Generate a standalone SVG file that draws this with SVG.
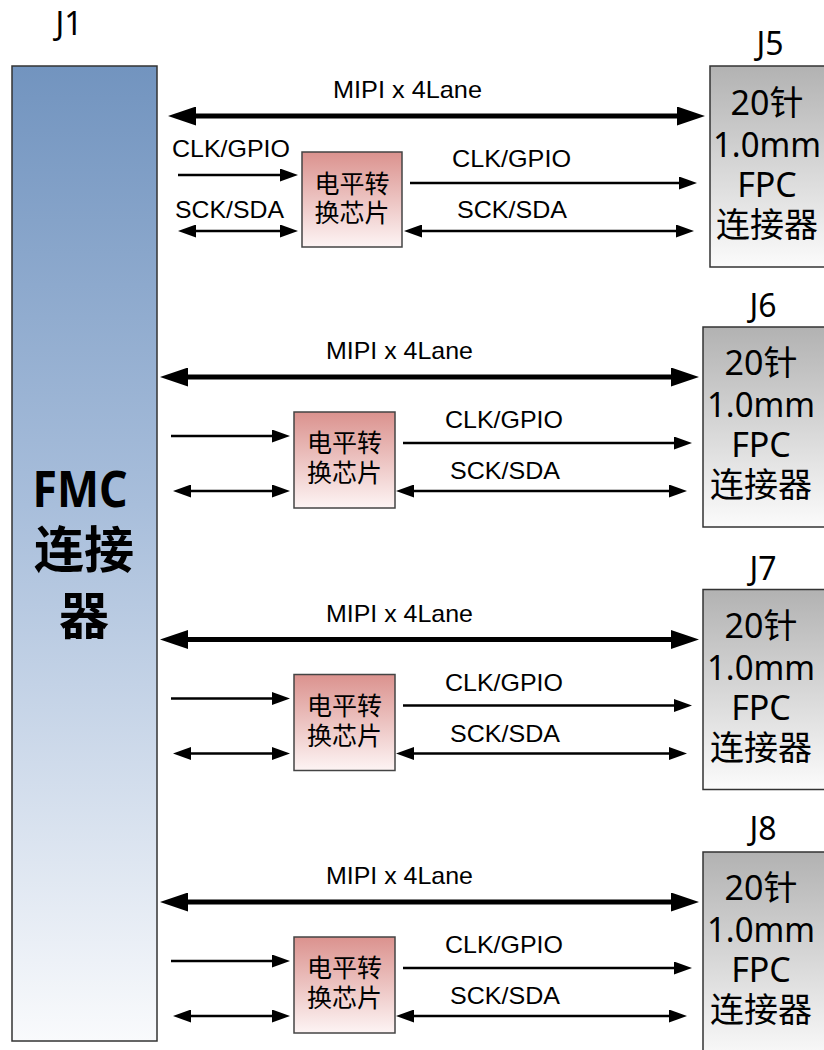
<svg xmlns="http://www.w3.org/2000/svg" width="824" height="1050" viewBox="0 0 824 1050">
<style>
.lbl{font-family:"Liberation Sans",Arial,sans-serif;font-size:24px;fill:#000}
.jl{font-family:"Noto Sans","Noto Sans CJK SC",sans-serif;font-size:32px;fill:#000;text-anchor:middle}
.jt{font-family:"Noto Sans","Noto Sans CJK SC",sans-serif;font-size:34px;fill:#000;text-anchor:middle}
.ct{font-family:"Noto Sans CJK SC",sans-serif;font-size:25px;fill:#000;text-anchor:middle}
.fmc{font-family:"Noto Sans","Noto Sans CJK SC",sans-serif;font-size:50px;font-weight:bold;fill:#000;text-anchor:middle}
.thick{stroke:#000;stroke-width:5;fill:none}
.thin{stroke:#000;stroke-width:2.5;fill:none}
.bigb{marker-start:url(#mb);marker-end:url(#mb)}
.sm{marker-end:url(#ms)}
.smb{marker-start:url(#ms);marker-end:url(#ms)}
.chip{fill:url(#gChip);stroke:#444;stroke-width:1.5}
.jbox{fill:url(#gJ);stroke:#333;stroke-width:1.5}
</style>
<defs>
<linearGradient id="gFMC" x1="0" y1="0" x2="0" y2="1">
<stop offset="0" stop-color="#7294bf"/>
<stop offset="0.45" stop-color="#a8bedb"/>
<stop offset="1" stop-color="#f9fafc"/>
</linearGradient>
<linearGradient id="gChip" x1="0" y1="0" x2="0" y2="1">
<stop offset="0" stop-color="#db928e"/>
<stop offset="1" stop-color="#fdf4f4"/>
</linearGradient>
<linearGradient id="gJ" x1="0" y1="0" x2="0" y2="1">
<stop offset="0" stop-color="#b2b2b2"/>
<stop offset="1" stop-color="#fbfbfb"/>
</linearGradient>
<marker id="mb" viewBox="0 0 28 19" markerWidth="28" markerHeight="19" refX="8" refY="9.5" markerUnits="userSpaceOnUse" orient="auto-start-reverse">
<path d="M0,0 L28,9.5 L0,19 z" fill="#000"/>
</marker>
<marker id="ms" viewBox="0 0 18 13" markerWidth="18" markerHeight="13" refX="6" refY="6.5" markerUnits="userSpaceOnUse" orient="auto-start-reverse">
<path d="M0,0 L18,6.5 L0,13 z" fill="#000"/>
</marker>
</defs>
<rect width="824" height="1050" fill="#fff"/>

<g id="J1">
<text class="jl" x="69" y="35">J1</text>
<rect x="12" y="66" width="145" height="975" fill="url(#gFMC)" stroke="#333" stroke-width="1.5"/>
<text class="fmc"><tspan x="80" y="507" textLength="95" lengthAdjust="spacingAndGlyphs">FMC</tspan><tspan x="84" y="568">连接</tspan><tspan x="84" y="634">器</tspan></text>
</g>

<g id="J5">
<text class="jl" x="770" y="55">J5</text>
<rect class="jbox" x="710" y="66" width="130" height="201"/>
<text class="jt"><tspan x="767" y="115">20针</tspan><tspan x="767" y="157" textLength="108" lengthAdjust="spacingAndGlyphs">1.0mm</tspan><tspan x="767" y="197">FPC</tspan><tspan x="767" y="237">连接器</tspan></text>
</g>
<g id="chip1">
<rect class="chip" x="302" y="152" width="100" height="95"/>
<text class="ct"><tspan x="352" y="193">电平转</tspan><tspan x="352" y="222">换芯片</tspan></text>
</g>

<g id="J6">
<text class="jl" x="763" y="317">J6</text>
<rect class="jbox" x="703" y="327" width="130" height="200"/>
<text class="jt"><tspan x="761" y="375">20针</tspan><tspan x="761" y="417" textLength="108" lengthAdjust="spacingAndGlyphs">1.0mm</tspan><tspan x="761" y="457">FPC</tspan><tspan x="761" y="497">连接器</tspan></text>
</g>
<g id="chip2">
<rect class="chip" x="294" y="412" width="101" height="96"/>
<text class="ct"><tspan x="344.5" y="452">电平转</tspan><tspan x="344.5" y="482">换芯片</tspan></text>
</g>

<g id="J7" transform="translate(0,262.5)">
<text class="jl" x="763" y="317">J7</text>
<rect class="jbox" x="703" y="327" width="130" height="200"/>
<text class="jt"><tspan x="761" y="375">20针</tspan><tspan x="761" y="417" textLength="108" lengthAdjust="spacingAndGlyphs">1.0mm</tspan><tspan x="761" y="457">FPC</tspan><tspan x="761" y="497">连接器</tspan></text>
</g>
<g id="chip3" transform="translate(0,262.5)">
<rect class="chip" x="294" y="412" width="101" height="96"/>
<text class="ct"><tspan x="344.5" y="452">电平转</tspan><tspan x="344.5" y="482">换芯片</tspan></text>
</g>

<g id="J8" transform="translate(0,525)">
<text class="jl" x="763" y="315">J8</text>
<rect class="jbox" x="703" y="327" width="130" height="210"/>
<text class="jt"><tspan x="761" y="375">20针</tspan><tspan x="761" y="417" textLength="108" lengthAdjust="spacingAndGlyphs">1.0mm</tspan><tspan x="761" y="457">FPC</tspan><tspan x="761" y="497">连接器</tspan></text>
</g>
<g id="chip4" transform="translate(0,525)">
<rect class="chip" x="294" y="412" width="101" height="96"/>
<text class="ct"><tspan x="344.5" y="452">电平转</tspan><tspan x="344.5" y="482">换芯片</tspan></text>
</g>

<g id="connectors">
<g id="sec1">
<line class="thick bigb" x1="188" y1="116" x2="685" y2="116"/>
<text class="lbl" x="333" y="98" textLength="149" lengthAdjust="spacingAndGlyphs">MIPI x 4Lane</text>
<text class="lbl" x="172" y="157" textLength="118" lengthAdjust="spacingAndGlyphs">CLK/GPIO</text>
<line class="thin sm" x1="178" y1="175" x2="286" y2="175"/>
<text class="lbl" x="175" y="218" textLength="109" lengthAdjust="spacingAndGlyphs">SCK/SDA</text>
<line class="thin smb" x1="190" y1="231" x2="286" y2="231"/>
<line class="thin sm" x1="410" y1="183" x2="685" y2="183"/>
<text class="lbl" x="452" y="167" textLength="119" lengthAdjust="spacingAndGlyphs">CLK/GPIO</text>
<line class="thin smb" x1="416" y1="231" x2="682" y2="231"/>
<text class="lbl" x="457" y="218" textLength="110" lengthAdjust="spacingAndGlyphs">SCK/SDA</text>
</g>
<g id="sec2">
<line class="thick bigb" x1="180" y1="377" x2="679" y2="377"/>
<text class="lbl" x="326" y="359" textLength="147" lengthAdjust="spacingAndGlyphs">MIPI x 4Lane</text>
<line class="thin sm" x1="171" y1="436" x2="278" y2="436"/>
<line class="thin smb" x1="185" y1="491" x2="278" y2="491"/>
<line class="thin sm" x1="403" y1="443" x2="680" y2="443"/>
<text class="lbl" x="445" y="428" textLength="118" lengthAdjust="spacingAndGlyphs">CLK/GPIO</text>
<line class="thin smb" x1="408" y1="491" x2="675" y2="491"/>
<text class="lbl" x="450" y="479" textLength="110" lengthAdjust="spacingAndGlyphs">SCK/SDA</text>
</g>
<g id="sec3" transform="translate(0,262.5)">
<line class="thick bigb" x1="180" y1="377" x2="679" y2="377"/>
<text class="lbl" x="326" y="359" textLength="147" lengthAdjust="spacingAndGlyphs">MIPI x 4Lane</text>
<line class="thin sm" x1="171" y1="436" x2="278" y2="436"/>
<line class="thin smb" x1="185" y1="491" x2="278" y2="491"/>
<line class="thin sm" x1="403" y1="443" x2="680" y2="443"/>
<text class="lbl" x="445" y="428" textLength="118" lengthAdjust="spacingAndGlyphs">CLK/GPIO</text>
<line class="thin smb" x1="408" y1="491" x2="675" y2="491"/>
<text class="lbl" x="450" y="479" textLength="110" lengthAdjust="spacingAndGlyphs">SCK/SDA</text>
</g>
<g id="sec4" transform="translate(0,525)">
<line class="thick bigb" x1="180" y1="377" x2="679" y2="377"/>
<text class="lbl" x="326" y="359" textLength="147" lengthAdjust="spacingAndGlyphs">MIPI x 4Lane</text>
<line class="thin sm" x1="171" y1="436" x2="278" y2="436"/>
<line class="thin smb" x1="185" y1="491" x2="278" y2="491"/>
<line class="thin sm" x1="403" y1="443" x2="680" y2="443"/>
<text class="lbl" x="445" y="428" textLength="118" lengthAdjust="spacingAndGlyphs">CLK/GPIO</text>
<line class="thin smb" x1="408" y1="491" x2="675" y2="491"/>
<text class="lbl" x="450" y="479" textLength="110" lengthAdjust="spacingAndGlyphs">SCK/SDA</text>
</g>
</g>
</svg>
